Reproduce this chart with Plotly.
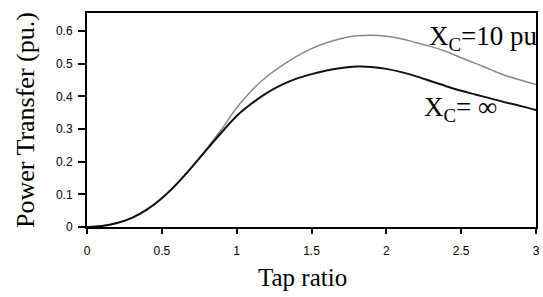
import plotly.graph_objects as go

tap_ratio = [0.0, 0.1, 0.2, 0.3, 0.4, 0.5, 0.6, 0.7, 0.8, 0.9, 1.0, 1.1, 1.2, 1.3, 1.4, 1.5,
             1.6, 1.7, 1.8, 1.9, 2.0, 2.1, 2.2, 2.3, 2.4, 2.5, 2.6, 2.7, 2.8, 2.9, 3.0]
power_xc_inf = [0.0, 0.003, 0.012, 0.028, 0.053, 0.088, 0.132, 0.183, 0.237, 0.290, 0.340,
                0.378, 0.410, 0.435, 0.454, 0.468, 0.479, 0.487, 0.491, 0.490, 0.484, 0.474,
                0.461, 0.446, 0.431, 0.417, 0.405, 0.393, 0.381, 0.370, 0.358]
power_xc_10 = [0.0, 0.003, 0.012, 0.028, 0.053, 0.088, 0.132, 0.183, 0.240, 0.300, 0.365,
               0.418, 0.460, 0.493, 0.522, 0.546, 0.564, 0.577, 0.585, 0.587, 0.584, 0.576,
               0.564, 0.552, 0.537, 0.518, 0.500, 0.481, 0.463, 0.449, 0.436]

x_ticks = [0, 0.5, 1, 1.5, 2, 2.5, 3]
y_ticks = [0, 0.1, 0.2, 0.3, 0.4, 0.5, 0.6]

serif = "Liberation Serif, Times New Roman, serif"
sans = "Liberation Sans, Arial, sans-serif"

fig = go.Figure()
fig.add_trace(go.Scatter(x=tap_ratio, y=power_xc_10, mode="lines",
                         line=dict(color="#8a8a8a", width=1.5, shape="spline"),
                         name="Xc=10 pu", showlegend=False))
fig.add_trace(go.Scatter(x=tap_ratio, y=power_xc_inf, mode="lines",
                         line=dict(color="#111111", width=2, shape="spline"),
                         name="Xc=inf", showlegend=False))

fig.update_layout(
    width=543, height=297,
    margin=dict(l=87, r=3, t=13, b=70),
    paper_bgcolor="white", plot_bgcolor="white",
    xaxis=dict(range=[0, 3], tickvals=x_ticks, ticktext=[str(v) for v in x_ticks],
               showgrid=False, zeroline=False, showline=True, linecolor="black",
               linewidth=2, mirror=True, ticks="outside", ticklen=5, tickwidth=1.5,
               tickcolor="black", ticklabelstandoff=7,
               tickfont=dict(family=sans, size=12, color="black")),
    yaxis=dict(range=[0, 0.655], tickvals=y_ticks, ticktext=[str(v) for v in y_ticks],
               showgrid=False, zeroline=False, showline=True, linecolor="black",
               linewidth=2, mirror=True, ticks="outside", ticklen=7, tickwidth=1.5,
               tickcolor="black", ticklabelstandoff=3,
               tickfont=dict(family=sans, size=12, color="black")),
    annotations=[
        dict(text="Tap ratio", xref="paper", yref="paper", x=0.479, y=-0.235,
             xanchor="center", yanchor="middle", showarrow=False,
             font=dict(family=serif, size=25, color="black")),
        dict(text="Power Transfer (pu.)", xref="paper", yref="paper", x=-0.138, y=0.5,
             xanchor="center", yanchor="middle", textangle=-90, showarrow=False,
             font=dict(family=serif, size=26, color="black")),
        dict(text="X<sub>C</sub>=10 pu", xref="x", yref="y", x=2.275, y=0.58,
             xanchor="left", yanchor="middle", showarrow=False,
             font=dict(family=serif, size=27, color="black")),
        dict(text="X<sub>C</sub>= ∞", xref="x", yref="y", x=2.24, y=0.36,
             xanchor="left", yanchor="middle", showarrow=False,
             font=dict(family=serif, size=27, color="black")),
    ],
)

fig.write_html("out.html", config={"displayModeBar": False},
               post_script="document.body.style.margin='0px';")
